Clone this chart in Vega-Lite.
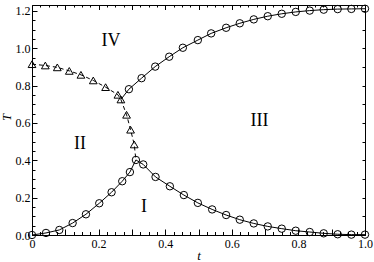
{
  "$schema": "https://vega.github.io/schema/vega-lite/v6.json",
  "width": 333,
  "height": 230,
  "autosize": {"type": "none"},
  "padding": {"left": 32, "top": 5, "right": 9, "bottom": 27},
  "background": "white",
  "config": {
    "view": {"stroke": "black", "strokeWidth": 1},
    "axis": {"tickColor": "black", "tickWidth": 1, "labelColor": "black", "domain": false, "grid": false, "labelFont": "Liberation Serif", "labelFontSize": 12, "titleColor": "black", "titleFont": "Liberation Serif"}
  },
  "datasets": {
    "curves": [
      {"series": "low", "t": 0.0, "T": 0.0, "marker": "circle"},
      {"series": "low", "t": 0.042, "T": 0.011, "marker": "circle"},
      {"series": "low", "t": 0.082, "T": 0.027, "marker": "circle"},
      {"series": "low", "t": 0.122, "T": 0.064, "marker": "circle"},
      {"series": "low", "t": 0.162, "T": 0.111, "marker": "circle"},
      {"series": "low", "t": 0.202, "T": 0.170, "marker": "circle"},
      {"series": "low", "t": 0.239, "T": 0.229, "marker": "circle"},
      {"series": "low", "t": 0.271, "T": 0.288, "marker": "circle"},
      {"series": "low", "t": 0.294, "T": 0.337, "marker": "circle"},
      {"series": "low", "t": 0.312, "T": 0.402, "marker": "circle"},
      {"series": "low", "t": 0.334, "T": 0.378, "marker": "circle"},
      {"series": "low", "t": 0.371, "T": 0.311, "marker": "circle"},
      {"series": "low", "t": 0.414, "T": 0.261, "marker": "circle"},
      {"series": "low", "t": 0.456, "T": 0.214, "marker": "circle"},
      {"series": "low", "t": 0.498, "T": 0.172, "marker": "circle"},
      {"series": "low", "t": 0.541, "T": 0.137, "marker": "circle"},
      {"series": "low", "t": 0.583, "T": 0.107, "marker": "circle"},
      {"series": "low", "t": 0.624, "T": 0.082, "marker": "circle"},
      {"series": "low", "t": 0.666, "T": 0.062, "marker": "circle"},
      {"series": "low", "t": 0.708, "T": 0.046, "marker": "circle"},
      {"series": "low", "t": 0.75, "T": 0.034, "marker": "circle"},
      {"series": "low", "t": 0.792, "T": 0.023, "marker": "circle"},
      {"series": "low", "t": 0.834, "T": 0.016, "marker": "circle"},
      {"series": "low", "t": 0.876, "T": 0.009, "marker": "circle"},
      {"series": "low", "t": 0.918, "T": 0.004, "marker": "circle"},
      {"series": "low", "t": 0.959, "T": 0.002, "marker": "circle"},
      {"series": "low", "t": 1.0, "T": 0.002, "marker": "circle"},
      {"series": "up", "t": 0.267, "T": 0.726, "marker": "none"},
      {"series": "up", "t": 0.291, "T": 0.781, "marker": "circle"},
      {"series": "up", "t": 0.329, "T": 0.840, "marker": "circle"},
      {"series": "up", "t": 0.37, "T": 0.902, "marker": "circle"},
      {"series": "up", "t": 0.412, "T": 0.955, "marker": "circle"},
      {"series": "up", "t": 0.453, "T": 1.003, "marker": "circle"},
      {"series": "up", "t": 0.498, "T": 1.044, "marker": "circle"},
      {"series": "up", "t": 0.538, "T": 1.080, "marker": "circle"},
      {"series": "up", "t": 0.583, "T": 1.110, "marker": "circle"},
      {"series": "up", "t": 0.624, "T": 1.134, "marker": "circle"},
      {"series": "up", "t": 0.666, "T": 1.155, "marker": "circle"},
      {"series": "up", "t": 0.708, "T": 1.172, "marker": "circle"},
      {"series": "up", "t": 0.75, "T": 1.185, "marker": "circle"},
      {"series": "up", "t": 0.792, "T": 1.195, "marker": "circle"},
      {"series": "up", "t": 0.834, "T": 1.202, "marker": "circle"},
      {"series": "up", "t": 0.876, "T": 1.207, "marker": "circle"},
      {"series": "up", "t": 0.918, "T": 1.210, "marker": "circle"},
      {"series": "up", "t": 0.959, "T": 1.211, "marker": "circle"},
      {"series": "up", "t": 1.0, "T": 1.212, "marker": "circle"},
      {"series": "tri", "t": 0.0, "T": 0.915, "marker": "tri"},
      {"series": "tri", "t": 0.04, "T": 0.908, "marker": "tri"},
      {"series": "tri", "t": 0.076, "T": 0.898, "marker": "tri"},
      {"series": "tri", "t": 0.112, "T": 0.879, "marker": "tri"},
      {"series": "tri", "t": 0.147, "T": 0.858, "marker": "tri"},
      {"series": "tri", "t": 0.184, "T": 0.828, "marker": "tri"},
      {"series": "tri", "t": 0.221, "T": 0.792, "marker": "tri"},
      {"series": "tri", "t": 0.258, "T": 0.751, "marker": "tri"},
      {"series": "tri", "t": 0.267, "T": 0.726, "marker": "tri"},
      {"series": "tri", "t": 0.284, "T": 0.644, "marker": "tri"},
      {"series": "tri", "t": 0.296, "T": 0.564, "marker": "tri"},
      {"series": "tri", "t": 0.307, "T": 0.485, "marker": "tri"},
      {"series": "tri", "t": 0.312, "T": 0.402, "marker": "none"}
    ],
    "labels": [
      {"label": "IV", "t": 0.237, "T": 1.041},
      {"label": "III", "t": 0.683, "T": 0.609},
      {"label": "II", "t": 0.144, "T": 0.486},
      {"label": "I", "t": 0.336, "T": 0.152}
    ]
  },
  "resolve": {"axis": {"x": "independent", "y": "independent"}},
  "layer": [
    {
      "data": {"name": "curves"},
      "transform": [{"filter": "datum.series != 'tri'"}],
      "mark": {"type": "line", "color": "black", "strokeWidth": 1},
      "encoding": {
        "x": {"field": "t", "type": "quantitative", "scale": {"domain": [0, 1], "nice": false, "zero": false},
          "axis": {"orient": "bottom", "values": [0, 0.2, 0.4, 0.6, 0.8, 1.0], "labelExpr": "datum.value == 0 ? '0' : format(datum.value, '.1f')", "ticks": false, "labelPadding": 3, "labelFlush": false, "labelOverlap": false,
            "labelFont": "Liberation Serif", "labelFontSize": 12, "labelColor": "black",
            "title": "t", "titleFont": "Liberation Serif", "titleFontStyle": "italic", "titleFontWeight": "normal", "titleFontSize": 13, "titleY": 24, "titleBaseline": "alphabetic", "titleColor": "black"}},
        "y": {"field": "T", "type": "quantitative", "scale": {"domain": [0, 1.232], "nice": false, "zero": false},
          "axis": {"orient": "left", "values": [0, 0.2, 0.4, 0.6, 0.8, 1.0, 1.2], "labelExpr": "format(datum.value, '.1f')", "ticks": false, "labelPadding": 2, "labelFlush": false, "labelOverlap": false,
            "labelFont": "Liberation Serif", "labelFontSize": 12, "labelColor": "black",
            "title": "T", "titleFont": "Liberation Serif", "titleFontStyle": "italic", "titleFontWeight": "normal", "titleFontSize": 12, "titleX": -22, "titleY": 112, "titleBaseline": "alphabetic", "titleAngle": -90, "titleColor": "black"}},
        "detail": {"field": "series"}
      }
    },
    {
      "data": {"name": "curves"},
      "transform": [{"filter": "datum.series == 'tri'"}],
      "mark": {"type": "line", "color": "black", "strokeWidth": 1, "strokeDash": [4, 3]},
      "encoding": {
        "x": {"field": "t", "type": "quantitative", "scale": {"domain": [0, 1], "nice": false, "zero": false},
          "axis": {"orient": "bottom", "values": [0, 0.1, 0.2, 0.3, 0.4, 0.5, 0.6, 0.7, 0.8, 0.9, 1.0], "labels": false, "tickSize": -6, "title": null}},
        "y": {"field": "T", "type": "quantitative", "scale": {"domain": [0, 1.232], "nice": false, "zero": false},
          "axis": {"orient": "left", "values": [0, 0.2, 0.4, 0.6, 0.8, 1.0, 1.2], "labels": false, "tickSize": -5, "title": null}}
      }
    },
    {
      "data": {"name": "curves"},
      "transform": [{"filter": "datum.marker == 'circle'"}],
      "mark": {"type": "point", "shape": "circle", "filled": false, "stroke": "black", "strokeWidth": 1, "size": 55, "opacity": 1},
      "encoding": {
        "x": {"field": "t", "type": "quantitative", "scale": {"domain": [0, 1], "nice": false, "zero": false},
          "axis": {"orient": "bottom", "values": [0, 0.025, 0.05, 0.075, 0.1, 0.125, 0.15, 0.175, 0.2, 0.225, 0.25, 0.275, 0.3, 0.325, 0.35, 0.375, 0.4, 0.425, 0.45, 0.475, 0.5, 0.525, 0.55, 0.575, 0.6, 0.625, 0.65, 0.675, 0.7, 0.725, 0.75, 0.775, 0.8, 0.825, 0.85, 0.875, 0.9, 0.925, 0.95, 0.975, 1.0], "labels": false, "tickSize": -3.5, "title": null}},
        "y": {"field": "T", "type": "quantitative", "scale": {"domain": [0, 1.232], "nice": false, "zero": false},
          "axis": {"orient": "left", "values": [0, 0.05, 0.1, 0.15, 0.2, 0.25, 0.3, 0.35, 0.4, 0.45, 0.5, 0.55, 0.6, 0.65, 0.7, 0.75, 0.8, 0.85, 0.9, 0.95, 1.0, 1.05, 1.1, 1.15, 1.2], "labels": false, "tickSize": -3, "title": null}}
      }
    },
    {
      "data": {"name": "curves"},
      "transform": [{"filter": "datum.marker == 'tri'"}],
      "mark": {"type": "point", "shape": "triangle-up", "filled": false, "stroke": "black", "strokeWidth": 1, "size": 60, "opacity": 1},
      "encoding": {
        "x": {"field": "t", "type": "quantitative", "scale": {"domain": [0, 1], "nice": false, "zero": false},
          "axis": {"orient": "top", "values": [0, 0.1, 0.2, 0.3, 0.4, 0.5, 0.6, 0.7, 0.8, 0.9, 1.0], "labels": false, "tickSize": -4.5, "title": null}},
        "y": {"field": "T", "type": "quantitative", "scale": {"domain": [0, 1.232], "nice": false, "zero": false},
          "axis": {"orient": "right", "values": [0, 0.1, 0.2, 0.3, 0.4, 0.5, 0.6, 0.7, 0.8, 0.9, 1.0, 1.1, 1.2], "labels": false, "tickSize": -3, "title": null}}
      }
    },
    {
      "data": {"name": "labels"},
      "mark": {"type": "text", "font": "Liberation Serif", "fontSize": 18, "color": "black", "baseline": "middle", "align": "center"},
      "encoding": {
        "x": {"field": "t", "type": "quantitative", "scale": {"domain": [0, 1], "nice": false, "zero": false},
          "axis": {"orient": "top", "values": [0, 0.025, 0.05, 0.075, 0.1, 0.125, 0.15, 0.175, 0.2, 0.225, 0.25, 0.275, 0.3, 0.325, 0.35, 0.375, 0.4, 0.425, 0.45, 0.475, 0.5, 0.525, 0.55, 0.575, 0.6, 0.625, 0.65, 0.675, 0.7, 0.725, 0.75, 0.775, 0.8, 0.825, 0.85, 0.875, 0.9, 0.925, 0.95, 0.975, 1.0], "labels": false, "tickSize": -2, "title": null}},
        "y": {"field": "T", "type": "quantitative", "scale": {"domain": [0, 1.232], "nice": false, "zero": false}, "axis": null},
        "text": {"field": "label"}
      }
    }
  ]
}
